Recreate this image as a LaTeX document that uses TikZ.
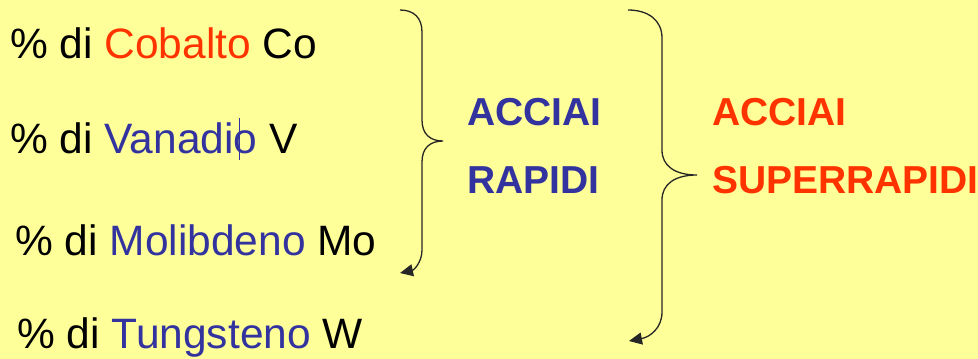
\documentclass[tikz,border=0pt]{standalone}
\usepackage{fontspec}
\setmainfont{Liberation Sans}
\usetikzlibrary{arrows.meta}
\definecolor{bgyellow}{HTML}{FFFF99}
\definecolor{myred}{HTML}{FF3300}
\definecolor{myblue}{HTML}{3333A0}
\begin{document}
\begin{tikzpicture}[x=1pt,y=-1pt,
  lbl/.style={anchor=base west,inner sep=0pt,font=\fontsize{42.5}{50}\selectfont},
  bold/.style={anchor=base west,inner sep=0pt,font=\fontsize{39}{46}\selectfont\bfseries},
  brace/.style={draw=black!85,line width=1.3pt,-{Triangle[length=13pt,width=12pt]}}]
\fill[bgyellow] (0,0) rectangle (978,359);
\useasboundingbox (0,0) rectangle (978,359);
\node[lbl] (co) at (10,58) {\% di \textcolor{myred}{Cobalto} Co};
\node[lbl] (v) at (10,153) {\% di \textcolor{myblue}{Vanadio} V};
\node[lbl] (mo) at (15,255) {\% di \textcolor{myblue}{Molibdeno} Mo};
\node[lbl] (w) at (17,348) {\% di \textcolor{myblue}{Tungsteno} W};
\draw[myblue,line width=0.9pt] (239,118) -- (239,160);
\node[bold,text=myblue] (a1) at (467,125) {ACCIAI};
\node[bold,text=myblue] (r1) at (467,193) {RAPIDI};
\node[bold,text=myred] (a2) at (712,125) {ACCIAI};
\node[bold,text=myred] (s2) at (712,193) {SUPERRAPIDI};
\coordinate (b1s) at (400,10);
\coordinate (b1t) at (443,141);
\coordinate (b1e) at (400,273);
\coordinate (b2s) at (628,10);
\coordinate (b2t) at (697,175);
\coordinate (b2e) at (629,341);
\draw[brace] (b1s) .. controls (414,10) and (422,18) .. (422,32) -- (422,120)
  .. controls (422,134) and (430,141) .. (b1t)
  .. controls (430,141) and (422,148) .. (422,162) -- (422,250)
  .. controls (422,262) and (414,270) .. (b1e);
\draw[brace] (b2s) .. controls (648,10) and (662,20) .. (662,38) -- (662,150)
  .. controls (662,166) and (675,175) .. (b2t)
  .. controls (675,175) and (662,184) .. (662,200) -- (662,312)
  .. controls (662,328) and (650,337) .. (b2e);
\end{tikzpicture}
\end{document}
